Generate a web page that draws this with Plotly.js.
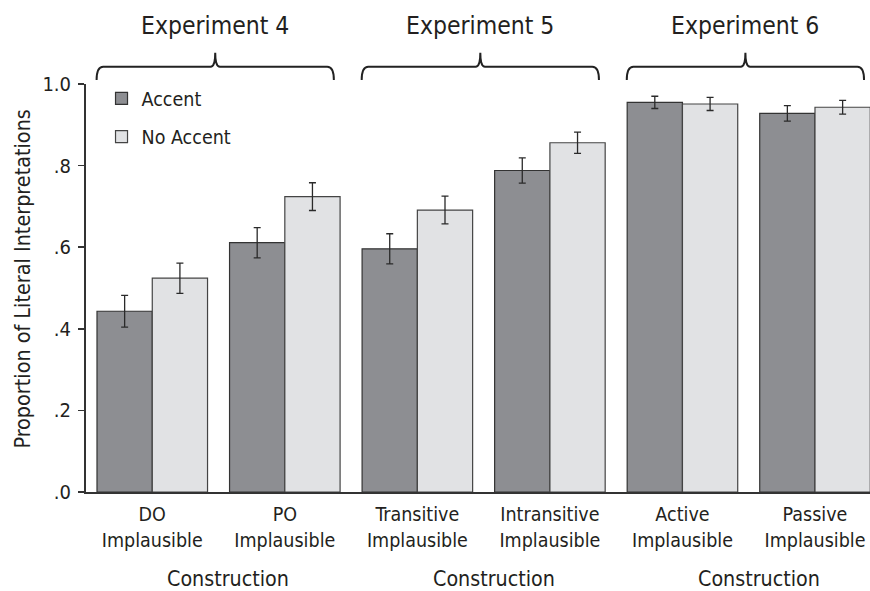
<!DOCTYPE html>
<html>
<head>
<meta charset="utf-8">
<script src="https://cdn.plot.ly/plotly-3.0.1.min.js"></script>
<style>html,body{margin:0;padding:0;background:#fff;}#chart{width:870px;height:591px;}</style>
</head>
<body>
<div id="chart"></div>
<script>
// ---- data ----
const categories = ["DO<br>Implausible", "PO<br>Implausible", "Transitive<br>Implausible", "Intransitive<br>Implausible", "Active<br>Implausible", "Passive<br>Implausible"];
const accentValues = [0.443, 0.611, 0.596, 0.788, 0.955, 0.928];
const accentErrors = [0.039, 0.037, 0.037, 0.031, 0.015, 0.019];
const noAccentValues = [0.524, 0.724, 0.691, 0.856, 0.951, 0.943];
const noAccentErrors = [0.037, 0.034, 0.034, 0.026, 0.016, 0.017];
const experimentNames = ["Experiment 4", "Experiment 5", "Experiment 6"];
const experimentFirstCategory = [0, 2, 4];
const experimentLastCategory = [1, 3, 5];
const groupLabel = "Construction";
const yTickVals = [0, 0.2, 0.4, 0.6, 0.8, 1.0];
const yTickText = [".0", ".2", ".4", ".6", ".8", "1.0"];

const FONT = "'DejaVu Sans Condensed', 'Liberation Sans Narrow', 'Roboto', sans-serif";
const INK = "#231f20";
const xIdx = categories.map((_, i) => i);

const traces = [
  {
    type: "bar", name: "Accent", x: xIdx, y: accentValues,
    marker: {color: "#8d8e92", line: {color: "#333333", width: 1.2}},
    error_y: {type: "data", array: accentErrors, visible: true, color: "#2a2a2a", thickness: 1.3, width: 3.5},
    legendgroup: "a"
  },
  {
    type: "bar", name: "No Accent", x: xIdx, y: noAccentValues,
    marker: {color: "#e1e2e4", line: {color: "#444444", width: 1.2}},
    error_y: {type: "data", array: noAccentErrors, visible: true, color: "#2a2a2a", thickness: 1.3, width: 3.5},
    legendgroup: "b"
  }
];

// braces & experiment titles
const shapes = [];
const annotations = [];
const yEnd = 1.0098, yH = 1.0424, yPeak = 1.0767;
experimentNames.forEach((name, k) => {
  const L = experimentFirstCategory[k] - 0.42;
  const R = experimentLastCategory[k] + 0.37;
  const P = (experimentFirstCategory[k] + experimentLastCategory[k]) / 2 - 0.025;
  const d = 0.05, dp = 0.035;
  const path = `M ${L},${yEnd} Q ${L},${yH} ${L + d},${yH} L ${P - dp},${yH} Q ${P},${yH} ${P},${yPeak} Q ${P},${yH} ${P + dp},${yH} L ${R - d},${yH} Q ${R},${yH} ${R},${yEnd}`;
  shapes.push({type: "path", xref: "x", yref: "paper", path: path, line: {color: "#222", width: 2}, layer: "above"});
  annotations.push({xref: "x", yref: "paper", x: P, y: 1.1434, text: name, showarrow: false,
    xanchor: "center", yanchor: "middle", font: {family: FONT, size: 24.5, color: INK}});
  annotations.push({xref: "x", yref: "paper", x: (experimentFirstCategory[k] + experimentLastCategory[k]) / 2 + 0.075,
    y: -0.213, text: groupLabel, showarrow: false, xanchor: "center", yanchor: "middle",
    font: {family: FONT, size: 21.3, color: INK}});
});
annotations.push({xref: "paper", yref: "paper", x: -0.0804, y: 0.523, text: "Proportion of Literal Interpretations",
  textangle: -90, showarrow: false, xanchor: "center", yanchor: "middle", font: {family: FONT, size: 21.4, color: INK}});

const layout = {
  width: 870, height: 591,
  margin: {l: 86, r: 0, t: 84, b: 99, pad: 0},
  paper_bgcolor: "#fff", plot_bgcolor: "#fff",
  font: {family: FONT, color: INK},
  barmode: "group", bargap: 0.166, bargroupgap: 0,
  showlegend: true,
  legend: {x: 0.0198, y: 1.012, xanchor: "left", yanchor: "top", bgcolor: "rgba(0,0,0,0)",
    font: {family: FONT, size: 19.5, color: INK}, traceorder: "grouped", tracegroupgap: 10},
  xaxis: {
    range: [-0.5, 5.415], tickmode: "array", tickvals: xIdx, ticktext: categories,
    showline: true, linecolor: "#333", linewidth: 2, ticks: "", showgrid: false, zeroline: false,
    ticklabelstandoff: 4,
    tickfont: {family: FONT, size: 19.5, color: INK}, fixedrange: true
  },
  yaxis: {
    range: [0, 1.0], tickmode: "array", tickvals: yTickVals, ticktext: yTickText,
    showline: true, linecolor: "#333", linewidth: 2, ticks: "outside", ticklen: 6, tickwidth: 1.5, tickcolor: "#333",
    ticklabelstandoff: 3,
    showgrid: false, zeroline: false, tickfont: {family: FONT, size: 20, color: INK}, fixedrange: true
  },
  shapes: shapes,
  annotations: annotations
};

Plotly.newPlot("chart", traces, layout, {displayModeBar: false, staticPlot: true});
</script>
</body>
</html>
